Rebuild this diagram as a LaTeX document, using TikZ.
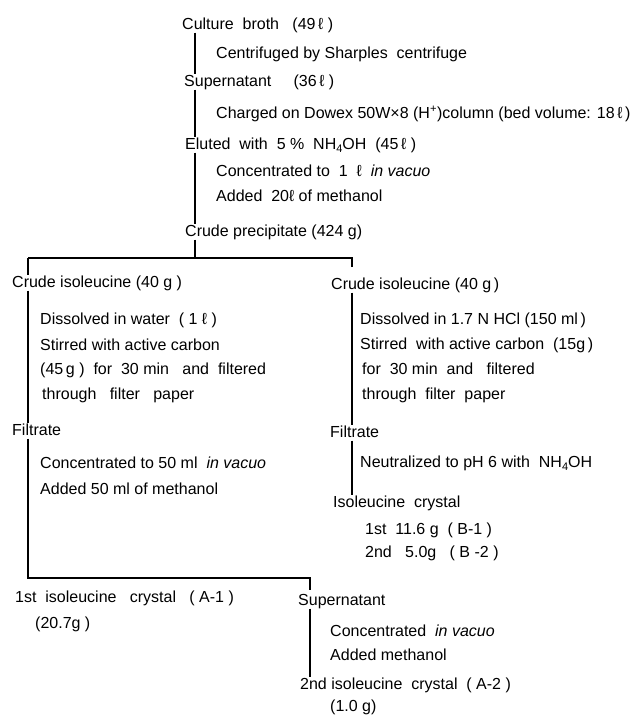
\documentclass[tikz,border=0pt]{standalone}
\usepackage{fontspec}
\setmainfont{Liberation Sans}
\newcommand{\lit}{ℓ}
\newcommand{\subf}{\raisebox{-0.35ex}{\fontsize{11}{11}\selectfont 4}}
\begin{document}
\begin{tikzpicture}[x=1pt,y=-1pt,
  txt/.style={anchor=west,inner sep=0pt,text height=12pt,text depth=3pt,font=\fontsize{16}{18}\selectfont},
  ln/.style={line width=1.3pt,black}]
\useasboundingbox (0,0) rectangle (637,715);
% main column
\node[txt] (cb) at (182,25) {Culture\ \ broth\ \ \ (49\,\lit\ )};
\node[txt] (s1) at (216,54) {Centrifuged\ by\ Sharples\ \ centrifuge};
\node[txt] (sup) at (184,82) {Supernatant\ \ \ \ \ (36\,\lit\ )};
\node[txt] (s2) at (216,114) {Charged on Dowex 50W×8 (H\textsuperscript{+})column (bed volume: 18\,\lit\,)};
\node[txt] (el) at (185,145) {Eluted\ \ with\ \ 5\ \%\ \ NH\subf OH\ \ (45\,\lit\ )};
\node[txt] (s3) at (216,172) {Concentrated\ to\ \ 1\ \ \lit\ \ \textit{in vacuo}};
\node[txt] (s4) at (216,197) {Added\ \ 20\lit\ of\ methanol};
\node[txt] (cp) at (185,232) {Crude precipitate (424 g)};
\coordinate (T) at (195,0);
\coordinate (hl) at (28,258);
\coordinate (hr) at (352,258);
\coordinate (hrt) at (352,267);
\draw[ln] (cb.south -| T) -- (sup.north -| T);
\draw[ln] (sup.south -| T) -- (el.north -| T);
\draw[ln] (el.south -| T) -- (cp.north -| T);
\draw[ln] (cp.south -| T) -- (hl -| T);
\draw[ln] (hrt) -- (hr) -- (hl);
% left branch
\node[txt] (l1) at (12,283) {Crude isoleucine (40 g\ )};
\node[txt] (ls1) at (40,320) {Dissolved in water\ \ ( 1\ \lit\ )};
\node[txt] (ls2) at (40,346) {Stirred with active carbon};
\node[txt] (ls3) at (40,370) {(45\,g\ )\ \ for\ \ 30 min\ \ \ and\ \ filtered};
\node[txt] (ls4) at (42,395) {through\ \ \ filter\ \ \ paper};
\node[txt] (lf) at (12,431) {Filtrate};
\node[txt] (ls5) at (40,464) {Concentrated to\ 50 ml\ \ \textit{in vacuo}};
\node[txt] (ls6) at (40,490) {Added\ 50 ml\ of methanol};
\coordinate (L) at (28,0);
\coordinate (bl) at (28,578);
\coordinate (br) at (310,578);
\coordinate (brt) at (310,590);
\draw[ln] (hl) -- (l1.north -| L);
\draw[ln] (l1.south -| L) -- (lf.north -| L);
\draw[ln] (lf.south -| L) -- (bl) -- (br) -- (brt);
% bottom
\node[txt] (a1) at (15,598) {1st\ \ isoleucine\ \ \ crystal\ \ \ ( A-1 )};
\node[txt] (a1b) at (35,624) {(20.7g\ )};
\node[txt] (bsup) at (298,601) {Supernatant};
\node[txt] (bs1) at (330,632) {Concentrated\ \ \textit{in vacuo}};
\node[txt] (bs2) at (330,656) {Added\ methanol};
\node[txt] (a2) at (300,685) {2nd\ isoleucine\ \ crystal\ \ ( A-2 )};
\node[txt] (a2b) at (330,707) {(1.0 g)};
\coordinate (B) at (310,0);
\draw[ln] (bsup.south -| B) -- (a2.north -| B);
% right branch
\node[txt] (r1) at (331,285) {Crude isoleucine\ (40\ g\,)};
\node[txt] (rs1) at (360,320) {Dissolved in 1.7 N HCl (150 ml\,)};
\node[txt] (rs2) at (360,345) {Stirred\ \ with active carbon\ \ (15g\,)};
\node[txt] (rs3) at (362,370) {for\ \ 30\ min\ \ and\ \ \ filtered};
\node[txt] (rs4) at (362,395) {through\ \ filter\ \ paper};
\node[txt] (rf) at (330,433) {Filtrate};
\node[txt] (rs5) at (360,463) {Neutralized\ to\ pH\ 6\ with\ \ NH\subf OH};
\node[txt] (ri) at (333,503) {Isoleucine\ \ crystal};
\node[txt] (rb1) at (365,530) {1st\ \ 11.6\ g\ \ ( B-1 )};
\node[txt] (rb2) at (365,553) {2nd\ \ \ 5.0g\ \ \ ( B\ -2 )};
\coordinate (R) at (352,0);
\draw[ln] (r1.south -| R) -- (rf.north -| R);
\draw[ln] (rf.south -| R) -- (ri.north -| R);
\end{tikzpicture}
\end{document}
